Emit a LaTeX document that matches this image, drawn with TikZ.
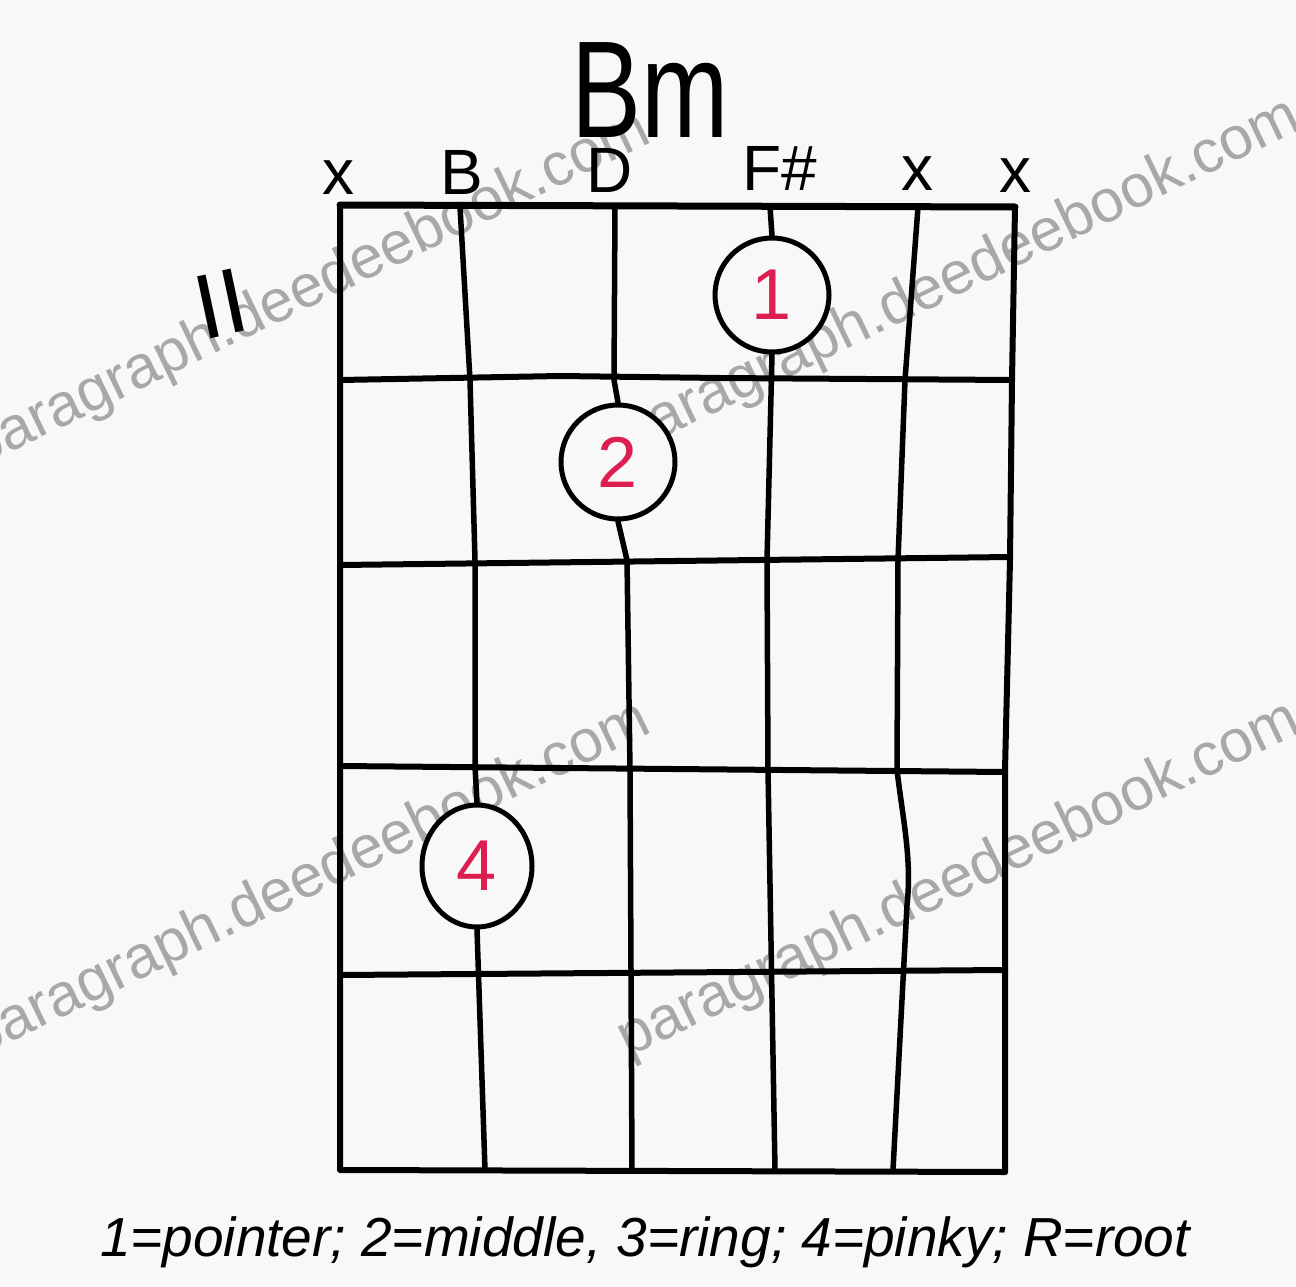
\documentclass[tikz,border=0pt]{standalone}
\usepackage{fontspec}
\setmainfont{Liberation Sans}
\usetikzlibrary{shapes.geometric}
\definecolor{paper}{HTML}{F8F8F8}
\definecolor{fingerred}{HTML}{DC1E50}
\definecolor{wmgray}{HTML}{A8A8A8}
\begin{document}
\begin{tikzpicture}[x=1pt,y=-1pt,
  wm/.style={text=wmgray, font=\fontsize{60}{60}\selectfont, rotate=25.8, anchor=base west, inner sep=0pt},
  gridline/.style={line width=6pt, line cap=round, line join=round},
  stringline/.style={line width=5.5pt, line cap=round, line join=round},
  finger/.style={circle, draw, line width=5pt, minimum size=114pt, inner sep=0pt, fill=paper, text=fingerred, font=\fontsize{72}{72}\selectfont},
  lbl/.style={font=\fontsize{64}{64}\selectfont, inner sep=0pt},
]
\fill[paper] (0,0) rectangle (1296,1287);
\useasboundingbox (0,0) rectangle (1296,1287);
\clip (0,0) rectangle (1296,1287);

% watermarks
\node[wm] (wm1) at (-22,468) {paragraph.deedeebook.com};
\node[wm] (wm2) at (628,455) {paragraph.deedeebook.com};
\node[wm] (wm3) at (-22,1058) {paragraph.deedeebook.com};
\node[wm] (wm4) at (628,1058) {paragraph.deedeebook.com};

% title
\node[font=\fontsize{138}{138}\selectfont, inner sep=0pt] (title) at (650,90) {\scalebox{0.76}[1]{Bm}};

% string labels
\node[lbl] (l1) at (338,178) {x};
\node[lbl] (l2) at (462,172) {B};
\node[lbl] (l3) at (610,170) {D};
\node[lbl] (l4) at (780,168) {F\#};
\node[lbl] (l5) at (917,174) {x};
\node[lbl] (l6) at (1015,176) {x};

% fret number
\node[font=\fontsize{92}{92}\selectfont, inner sep=0pt, rotate=12] (fret) at (221,304) {II};

% finger circles
\node[finger] (c1) at (772,295) {1};
\node[finger] (c2) at (618,462) {2};
\node[finger, ellipse, minimum width=110pt, minimum height=122pt] (c4) at (477,866) {4};

% frame
\coordinate (TL) at (340,205);
\coordinate (TR) at (1015,207);
\coordinate (BR) at (1005,1172);
\coordinate (BL) at (340,1170);
\draw[gridline, line width=7pt] (TL) -- (TR);
\draw[gridline] (TL) -- (BL) -- (BR);
\draw[gridline] (TR) -- (1012,380) -- (1010,560) -- (1005,770) -- (BR);

% frets
\draw[gridline] (340,380) -- (560,376) -- (720,378) -- (1012,380);
\draw[gridline] (340,565) -- (1010,557);
\draw[gridline] (340,766) -- (1005,772);
\draw[gridline] (340,975) -- (1005,970);

% strings
\draw[stringline] (460,207) -- (470,380) -- (475,560) -- (475,766) -- (c4.north);
\draw[stringline] (c4.south) -- (485,1170);
\draw[stringline] (615,207) -- (614,380) -- (c2.north);
\draw[stringline] (c2.south) -- (627,560) -- (630,770) -- (632,1170);
\draw[stringline] (770,207) -- (c1.north);
\draw[stringline] (c1.south) -- (767,560) -- (768,770) -- (775,1170);
\draw[stringline] (918,207) -- (905,380) -- (898,560) -- (897,770) .. controls (903,820) and (912,860) .. (907,905) -- (893,1170);

% legend
\node[font=\itshape\fontsize{55}{55}\selectfont, inner sep=0pt] (legend) at (645,1242) {1=pointer; 2=middle, 3=ring; 4=pinky; R=root};
\end{tikzpicture}
\end{document}
